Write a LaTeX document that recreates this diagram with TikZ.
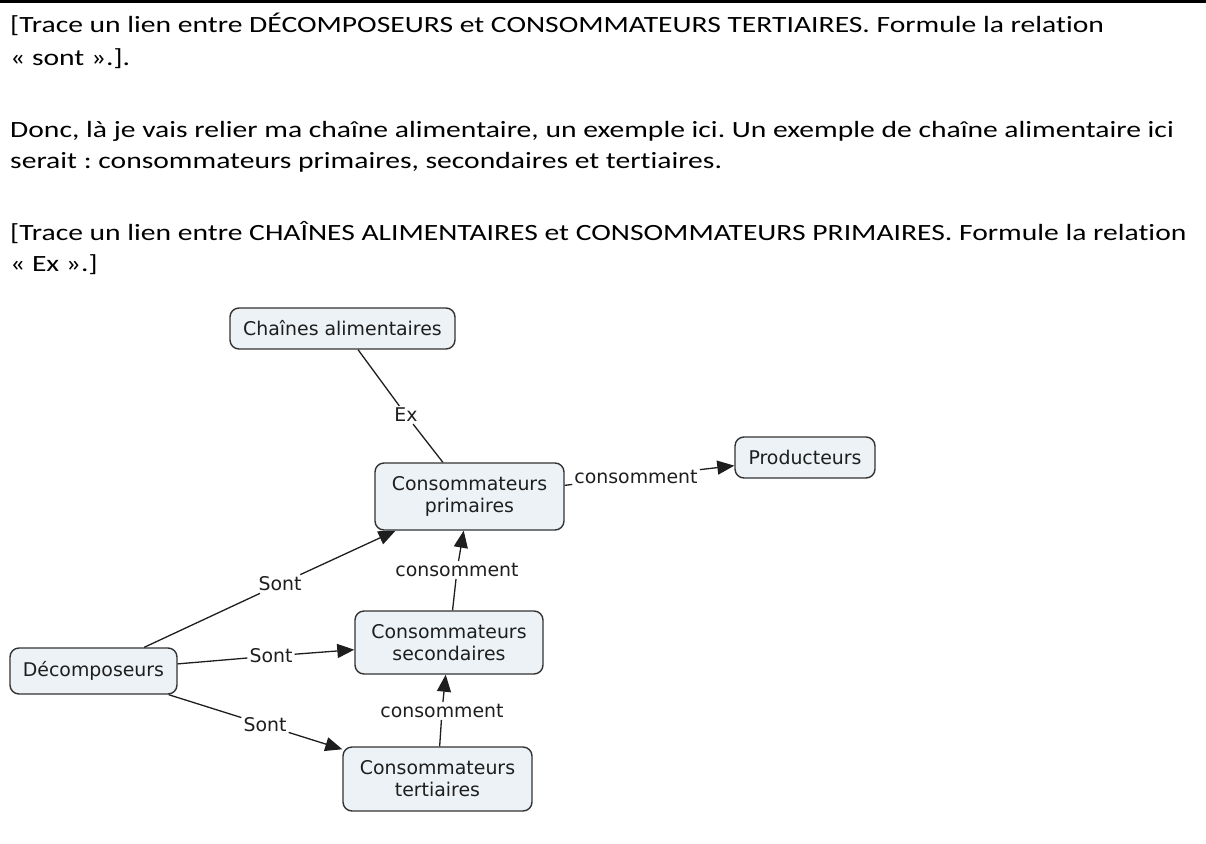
\documentclass[tikz,border=0pt]{standalone}
\usepackage{fontspec}
\setmainfont{Carlito}[FakeStretch=1.27, Ligatures=NoCommon]
\newfontfamily\cmapfont{DejaVu Sans}
\usetikzlibrary{arrows.meta}
\definecolor{boxfill}{HTML}{ECF2F5}
\definecolor{boxline}{HTML}{333333}
\definecolor{ink}{HTML}{1E1E1E}
\frenchspacing
\begin{document}
\begin{tikzpicture}[x=1pt,y=-1pt,
  concept/.style={draw=boxline, line width=1.4pt, fill=boxfill, rounded corners=9pt,
    font=\cmapfont\fontsize{18.9}{22}\selectfont, text=ink, align=center, inner sep=0pt},
  linklabel/.style={font=\cmapfont\fontsize{18.9}{22}\selectfont, text=ink, inner sep=2pt},
  link/.style={line width=1.3pt, draw=ink},
  arr/.style={link, -{Triangle[length=17pt,width=14pt]}},
  para/.style={anchor=base west, inner sep=0pt, font=\fontsize{23.3}{30}\selectfont}
]
\useasboundingbox (0,0) rectangle (1206,843);
\fill[white] (0,0) rectangle (1206,843);
\fill[black] (0,0) rectangle (1206,3.5);

% paragraph text
\node[para] (t1) at (10,33) {[Trace un lien entre DÉCOMPOSEURS et CONSOMMATEURS TERTIAIRES. Formule la relation};
\node[para] (t2) at (10,65) {« sont ».].};
\node[para] (t3) at (10,137) {Donc, là je vais relier ma chaîne alimentaire, un exemple ici. Un exemple de chaîne alimentaire ici};
\node[para] (t4) at (10,168) {serait : consommateurs primaires, secondaires et tertiaires.};
\node[para] (t5) at (10,240) {[Trace un lien entre CHAÎNES ALIMENTAIRES et CONSOMMATEURS PRIMAIRES. Formule la relation};
\node[para] (t6) at (10,271) {« Ex ».]};

% concepts
\node[concept, minimum width=225pt, minimum height=41pt] (ch) at (342.5,328.5) {Chaînes alimentaires};
\node[concept, minimum width=189pt, minimum height=67pt] (prim) at (469.5,496.5) {Consommateurs\\primaires};
\node[concept, minimum width=140pt, minimum height=41pt] (prod) at (805,457.5) {Producteurs};
\node[concept, minimum width=188pt, minimum height=63pt] (sec) at (449,642.5) {Consommateurs\\secondaires};
\node[concept, minimum width=167pt, minimum height=46pt] (dec) at (93.5,671) {Décomposeurs};
\node[concept, minimum width=189pt, minimum height=64pt] (ter) at (437.5,779) {Consommateurs\\tertiaires};

% link labels
\node[linklabel] (ex) at (406,415) {Ex};
\node[linklabel] (c1) at (636,477) {consomment};
\node[linklabel] (c2) at (457,570) {consomment};
\node[linklabel] (c3) at (442,711) {consomment};
\node[linklabel] (s1) at (280,584) {Sont};
\node[linklabel] (s2) at (271,656) {Sont};
\node[linklabel] (s3) at (265,725) {Sont};

% links
\draw[link] (ch) -- (ex);
\draw[link] (ex) -- (prim);
\draw[link] (prim) -- (c1);
\draw[arr] (c1) -- (prod);
\draw[link] (sec) -- (c2);
\draw[arr] (c2) -- (prim);
\draw[link] (ter) -- (c3);
\draw[arr] (c3) -- (sec);
\draw[link] (dec) -- (s1);
\draw[arr] (s1) -- (prim);
\draw[link] (dec) -- (s2);
\draw[arr] (s2) -- (sec);
\draw[link] (dec) -- (s3);
\draw[arr] (s3) -- (ter);
\end{tikzpicture}
\end{document}
